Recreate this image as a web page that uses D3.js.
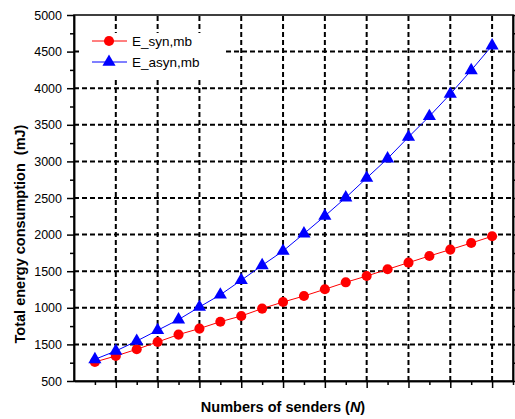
<!DOCTYPE html>
<html>
<head>
<meta charset="utf-8">
<script src="https://cdn.jsdelivr.net/npm/d3@7"></script>
<style>
    body { margin: 0; background: #fff; }
    text { font-family: "Liberation Sans", Arial, sans-serif; }
</style>
</head>
<body>
<div class="chart"></div>
<script>
    // data
    const senders = [1, 2, 3, 4, 5, 6, 7, 8, 9, 10, 11, 12, 13, 14, 15, 16, 17, 18, 19, 20];
    const eSyn = [260, 342, 433, 533, 634, 716, 810, 888, 989, 1079, 1161, 1253, 1348, 1434, 1526, 1617, 1708, 1795, 1885, 1977];
    const eAsyn = [296, 410, 546, 693, 839, 1011, 1178, 1376, 1580, 1776, 2013, 2254, 2505, 2773, 3038, 3333, 3616, 3920, 4244, 4582];
    const seriesNames = ["E_syn,mb", "E_asyn,mb"];
    const yTicks = [0, 500, 1000, 1500, 2000, 2500, 3000, 3500, 4000, 4500, 5000];
    const yTickLabels = ["500", "1500", "1000", "1500", "2000", "2500", "3000", "3500", "4000", "4500", "5000"];
    const xMajor = [2, 4, 6, 8, 10, 12, 14, 16, 18, 20];
    const xMinor = [1, 3, 5, 7, 9, 11, 13, 15, 17, 19, 21];

    const width = 515;
    const height = 419;

    const svg = d3.select('.chart')
        .append('svg')
        .attr('width', width)
        .attr('height', height)

    const x = d3.scaleLinear().domain([0, 21]).range([74, 513]);
    const y = d3.scaleLinear().domain([0, 5000]).range([381, 15]);

    // grid
    svg.selectAll(".vgrid")
        .data(xMajor)
        .enter()
        .append("line")
        .attr("x1", d => x(d)).attr("x2", d => x(d))
        .attr("y1", y(0)).attr("y2", y(5000))
        .attr("stroke", "#000")
        .attr("stroke-width", 2)
        .attr("stroke-dasharray", "5,3")

    svg.selectAll(".hgrid")
        .data(yTicks.slice(1, -1))
        .enter()
        .append("line")
        .attr("x1", x(0)).attr("x2", x(21))
        .attr("y1", d => y(d)).attr("y2", d => y(d))
        .attr("stroke", "#000")
        .attr("stroke-width", 2)
        .attr("stroke-dasharray", "5,3")

    // legend background hides the grid
    svg.append("rect")
        .attr("x", 80).attr("y", 33)
        .attr("width", 143).attr("height", 47)
        .attr("fill", "#fff")

    // series
    const series = [
        { name: seriesNames[0], values: eSyn, color: "#ff0000", shape: d3.symbolCircle, size: 80 },
        { name: seriesNames[1], values: eAsyn, color: "#0000ff", shape: d3.symbolTriangle, size: 75 }
    ];

    const line = d3.line()
        .x((d, i) => x(senders[i]))
        .y(d => y(d));

    series.forEach(s => {
        svg.append("path")
            .attr("d", line(s.values))
            .attr("fill", "none")
            .attr("stroke", s.color)
            .attr("stroke-width", 1)

        svg.selectAll(null)
            .data(s.values)
            .enter()
            .append("path")
            .attr("d", d3.symbol().type(s.shape).size(s.size))
            .attr("transform", (d, i) => "translate(" + x(senders[i]) + "," + y(d) + ")")
            .attr("fill", s.color)
    })

    // axes
    const bottom = svg.append("g").attr("transform", "translate(0," + y(0) + ")");
    bottom.call(d3.axisBottom(x).tickValues(xMajor).tickSize(7).tickSizeOuter(0).tickFormat(""));
    bottom.append("g").call(d3.axisBottom(x).tickValues(xMinor).tickSize(4).tickSizeOuter(0).tickFormat(""));

    const left = svg.append("g").attr("transform", "translate(" + x(0) + ",0)");
    left.call(d3.axisLeft(y).tickValues(yTicks).tickSize(7).tickSizeOuter(0).tickPadding(5)
        .tickFormat((d, i) => yTickLabels[i]));
    left.append("g").call(d3.axisLeft(y).tickValues(yTicks.slice(0, -1).map(d => d + 250)).tickSize(4).tickSizeOuter(0).tickFormat(""));

    const right = svg.append("g").attr("transform", "translate(" + x(21) + ",0)");
    right.call(d3.axisRight(y).tickValues(yTicks).tickSize(5).tickSizeOuter(0).tickFormat(""));
    right.append("g").call(d3.axisRight(y).tickValues(yTicks.slice(0, -1).map(d => d + 250)).tickSize(3).tickSizeOuter(0).tickFormat(""));

    svg.selectAll(".tick line, .domain").attr("stroke", "#000").attr("stroke-width", 1.5);
    left.selectAll("text").attr("font-size", 12.5).attr("fill", "#000");

    svg.append("rect")
        .attr("x", x(0)).attr("y", y(5000))
        .attr("width", x(21) - x(0)).attr("height", y(0) - y(5000))
        .attr("fill", "none")
        .attr("stroke", "#000")
        .attr("stroke-width", 1.5)

    // legend
    series.forEach((s, i) => {
        const ly = 41 + i * 21;
        svg.append("line")
            .attr("x1", 92).attr("x2", 127)
            .attr("y1", ly).attr("y2", ly)
            .attr("stroke", s.color)
        svg.append("path")
            .attr("d", d3.symbol().type(s.shape).size(s.size))
            .attr("transform", "translate(109," + ly + ")")
            .attr("fill", s.color)
        svg.append("text")
            .attr("x", 132).attr("y", ly + 5)
            .attr("font-size", 13.5)
            .text(s.name)
    })

    // titles
    svg.append("text")
        .attr("transform", "translate(25,234) rotate(-90)")
        .attr("text-anchor", "middle")
        .attr("font-size", 14.5)
        .attr("font-weight", "bold")
        .text("Total energy consumption  (mJ)")
        .style("white-space", "pre")

    const xt = svg.append("text")
        .attr("x", 283).attr("y", 412)
        .attr("text-anchor", "middle")
        .attr("font-size", 14.5)
        .attr("font-weight", "bold")
    xt.append("tspan").text("Numbers of senders (")
    xt.append("tspan").attr("font-style", "italic").text("N")
    xt.append("tspan").text(")")
</script>
</body>
</html>
